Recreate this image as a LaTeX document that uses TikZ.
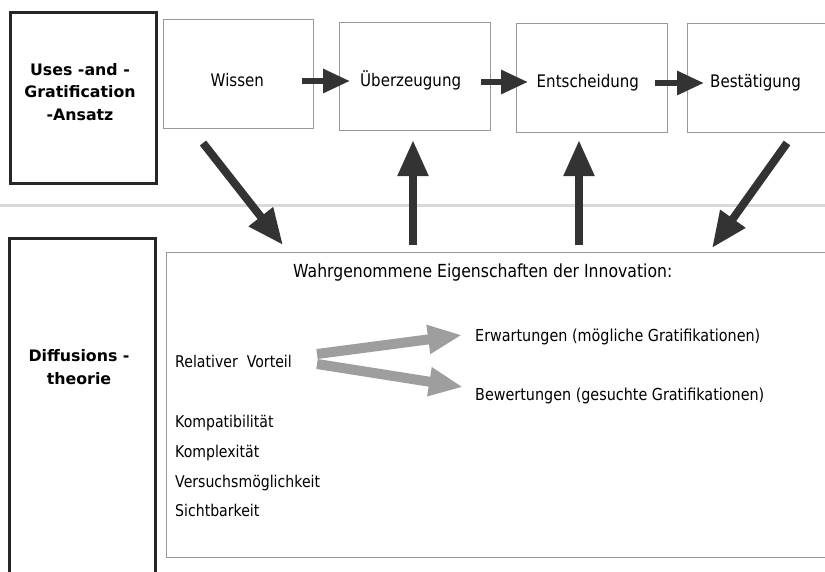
\documentclass[tikz,border=0pt]{standalone}
\usepackage{fontspec}
\setmainfont{DejaVu Sans}[FakeStretch=0.87]
\newfontfamily\plainsans{DejaVu Sans}
\usetikzlibrary{arrows.meta,calc}
\begin{document}
\begin{tikzpicture}[x=1pt,y=-1pt,
  thickbox/.style={draw=black!85,line width=3pt,inner sep=0pt},
  thinbox/.style={draw=black!40,line width=0.8pt,inner sep=0pt},
  steptext/.style={font=\fontsize{17.3}{20}\selectfont,inner sep=0pt,anchor=base west},
  listtext/.style={font=\fontsize{16.2}{19}\selectfont,inner sep=0pt,anchor=base west},
  gratext/.style={font=\fontsize{16.5}{19}\selectfont,inner sep=0pt,anchor=base west},
  boldlabel/.style={font=\plainsans\bfseries\fontsize{15.8}{22.5}\selectfont,align=center,inner sep=0pt},
  flowarrow/.style={draw=black!80,line width=6pt,-{Triangle[length=27pt,width=23pt]}},
  bigarrow/.style={draw=black!80,line width=8pt,-{Triangle[length=36pt,width=29pt]}},
  hatcharrow/.style={draw=black!38,line width=10pt,-{Triangle[length=34pt,width=27pt]}},
]
\useasboundingbox (0,0) rectangle (825,571);
\fill[white] (0,0) rectangle (825,571);

% faint horizontal band
\coordinate (bandl) at (0,205);
\coordinate (bandr) at (825,205);
\draw[black!15,line width=3pt] (bandl) -- (bandr);

% left label boxes
\node[thickbox,minimum width=146,minimum height=171] (ua) at (83,97.5) {};
\node[boldlabel] (ualabel) at (80,92) {Uses -and -\\Gratification\\-Ansatz};
\node[thickbox,minimum width=146,minimum height=362] (dt) at (82,419) {};
\node[boldlabel] (dtlabel) at (79,367) {Diffusions -\\theorie};

% step boxes
\node[thinbox,minimum width=150,minimum height=109] (bw) at (238,73.5) {};
\node[thinbox,minimum width=151,minimum height=108] (bu) at (414.5,76) {};
\node[thinbox,minimum width=151,minimum height=109] (be) at (591.5,77.5) {};
\node[thinbox,minimum width=153,minimum height=109] (bb) at (763.5,77.5) {};

\node[steptext] (tw) at (210.5,86) {Wissen};
\node[steptext] (tu) at (360,86.5) {Überzeugung};
\node[steptext] (te) at (536.5,87) {Entscheidung};
\node[steptext] (tb) at (710,87.5) {Bestätigung};

% flow arrows
\coordinate (a1s) at (302,81);  \coordinate (a1e) at (350,81);
\coordinate (a2s) at (481,82);  \coordinate (a2e) at (528,82);
\coordinate (a3s) at (655,83);  \coordinate (a3e) at (704,83);
\draw[flowarrow] (a1s) -- (a1e);
\draw[flowarrow] (a2s) -- (a2e);
\draw[flowarrow] (a3s) -- (a3e);

% big properties box
\node[thinbox,minimum width=674,minimum height=305] (big) at (503,404.5) {};
\node[font=\fontsize{18}{21}\selectfont,inner sep=0pt,anchor=base west] (title) at (293,277.5) {Wahrgenommene Eigenschaften der Innovation:};

% connecting arrows between levels
\coordinate (d1s) at (203,143); \coordinate (d1e) at (283,245);
\coordinate (u1s) at (413,245); \coordinate (u1e) at (413,140);
\coordinate (u2s) at (579,245); \coordinate (u2e) at (579,140);
\coordinate (d2s) at (787,143); \coordinate (d2e) at (712,248);
\draw[bigarrow] (d1s) -- (d1e);
\draw[bigarrow] (u1s) -- (u1e);
\draw[bigarrow] (u2s) -- (u2e);
\draw[bigarrow] (d2s) -- (d2e);

% list
\node[listtext] (rv) at (175,367.5) {Relativer\ \ Vorteil};
\node[listtext] (kp) at (175,427.5) {Kompatibilität};
\node[listtext] (kx) at (175,457) {Komplexität};
\node[listtext] (vm) at (175,487) {Versuchsmöglichkeit};
\node[listtext] (sb) at (175,516.5) {Sichtbarkeit};

\node[gratext] (erw) at (475,341) {Erwartungen (mögliche Gratifikationen)};
\node[gratext] (bew) at (475,400) {Bewertungen (gesuchte Gratifikationen)};

\coordinate (h1s) at (317,354); \coordinate (h1e) at (462,335);
\coordinate (h2s) at (317,364); \coordinate (h2e) at (463,387);
\draw[hatcharrow] (h1s) -- (h1e);
\draw[hatcharrow] (h2s) -- (h2e);
\end{tikzpicture}
\end{document}
